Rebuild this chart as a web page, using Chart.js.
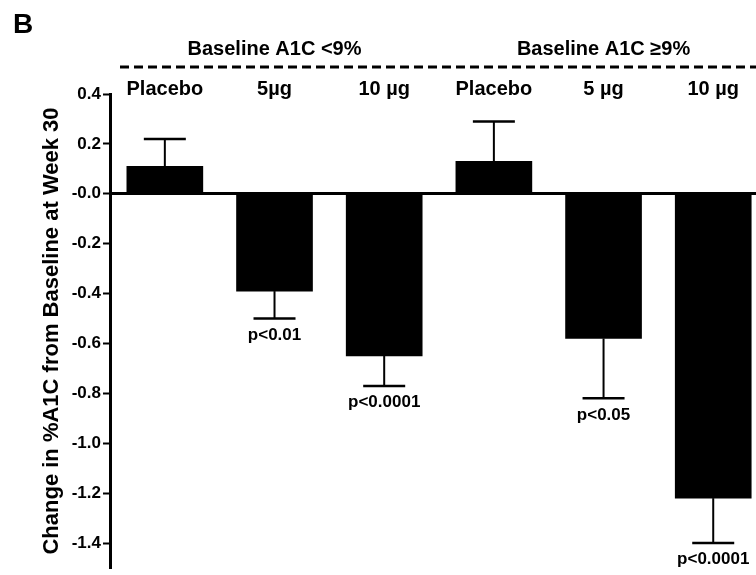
<!DOCTYPE html>
<html>
<head>
<meta charset="utf-8">
<script src="https://cdn.jsdelivr.net/npm/chart.js@4.4.1/dist/chart.umd.min.js"></script>
<style>
  body { margin: 0; background: #fff; }
  #wrap { width: 756px; height: 575px; position: relative; }
</style>
</head>
<body>
<div id="wrap"><canvas id="a1cChart"></canvas></div>
<script>
// Change in A1C at week 30, split by baseline A1C
const categories = ['Placebo', '5\u00b5g', '10 \u00b5g', 'Placebo', '5 \u00b5g', '10 \u00b5g'];
const groupNames = ['Baseline A1C <9%', 'Baseline A1C \u22659%'];
const groupOf = [0, 0, 0, 1, 1, 1];
const means = [0.11, -0.39, -0.65, 0.13, -0.58, -1.22];
const errors = [0.11, 0.11, 0.12, 0.16, 0.24, 0.18];
const pLabels = ['', 'p<0.01', 'p<0.0001', '', 'p<0.05', 'p<0.0001'];
const tickValues = [0.4, 0.2, 0, -0.2, -0.4, -0.6, -0.8, -1.0, -1.2, -1.4];
const tickLabels = ['0.4', '0.2', '-0.0', '-0.2', '-0.4', '-0.6', '-0.8', '-1.0', '-1.2', '-1.4'];

Chart.defaults.font.family = '"Liberation Sans", Arial, Helvetica, sans-serif';
Chart.defaults.font.weight = 'bold';
Chart.defaults.color = '#000';

// error bars, p values, column headers, group headers and panel letter
const extras = {
  id: 'extras',
  afterDatasetsDraw(chart) {
    const ctx = chart.ctx;
    const xs = chart.scales.x;
    const ys = chart.scales.y;
    const area = chart.chartArea;
    ctx.save();
    ctx.strokeStyle = '#000';
    ctx.fillStyle = '#000';

    for (let i = 0; i < means.length; i++) {
      const x = xs.getPixelForValue(i);
      const dir = means[i] >= 0 ? 1 : -1;
      const yBar = ys.getPixelForValue(means[i]);
      const yEnd = ys.getPixelForValue(means[i] + dir * errors[i]);
      ctx.lineWidth = 2;
      ctx.beginPath();
      ctx.moveTo(x, yBar);
      ctx.lineTo(x, yEnd);
      ctx.stroke();
      ctx.lineWidth = 2.5;
      ctx.beginPath();
      ctx.moveTo(x - 21, yEnd);
      ctx.lineTo(x + 21, yEnd);
      ctx.stroke();

      if (pLabels[i]) {
        ctx.font = 'bold 17px "Liberation Sans", Arial, sans-serif';
        ctx.textAlign = 'center';
        ctx.textBaseline = 'top';
        ctx.fillText(pLabels[i], x, yEnd + 8);
      }

      ctx.font = 'bold 20px "Liberation Sans", Arial, sans-serif';
      ctx.textAlign = 'center';
      ctx.textBaseline = 'alphabetic';
      ctx.fillText(categories[i], x, area.top + 1);
    }

    // group headers centred over their columns
    groupNames.forEach((name, g) => {
      const idx = groupOf.map((v, i) => v === g ? i : -1).filter(i => i >= 0);
      const x0 = xs.getPixelForValue(idx[0]);
      const x1 = xs.getPixelForValue(idx[idx.length - 1]);
      ctx.font = 'bold 20px "Liberation Sans", Arial, sans-serif';
      ctx.textAlign = 'center';
      ctx.textBaseline = 'alphabetic';
      ctx.fillText(name, (x0 + x1) / 2, 55);
    });

    // dashed rule under the group headers
    ctx.lineWidth = 3;
    ctx.setLineDash([9, 5]);
    ctx.beginPath();
    ctx.moveTo(area.left + 10, 67);
    ctx.lineTo(chart.width, 67);
    ctx.stroke();
    ctx.setLineDash([]);

    ctx.font = 'bold 28px "Liberation Sans", Arial, sans-serif';
    ctx.textAlign = 'left';
    ctx.fillText('B', 13, 33);
    ctx.restore();
  }
};

new Chart(document.getElementById('a1cChart'), {
  type: 'bar',
  data: {
    datasets: [{
      data: means.map((v, i) => ({ x: i, y: v })),
      backgroundColor: '#000',
      borderWidth: 0,
      barThickness: 76
    }]
  },
  options: {
    responsive: true,
    maintainAspectRatio: false,
    animation: false,
    layout: { padding: { top: 94, bottom: 7, left: 0, right: 0 } },
    plugins: {
      legend: { display: false },
      tooltip: { enabled: false }
    },
    scales: {
      x: {
        type: 'linear',
        display: false,
        offset: false,
        min: -0.5,
        max: 5.39,
        afterBuildTicks: (scale) => {
          scale.ticks = categories.map((c, i) => ({ value: i }));
        }
      },
      y: {
        min: -1.5,
        max: 0.4,
        afterBuildTicks: (scale) => {
          scale.ticks = tickValues.map(v => ({ value: v }));
        },
        afterFit: (scale) => {
          scale.width = 110;
          scale.paddingTop = 0;
          scale.paddingBottom = 0;
        },
        ticks: {
          padding: 2,
          font: { size: 17, weight: 'bold' },
          color: '#000',
          callback: (value, index) => tickLabels[index]
        },
        grid: {
          drawOnChartArea: true,
          drawTicks: true,
          tickLength: 7,
          tickWidth: 2,
          tickColor: '#000',
          color: (c) => c.tick && c.tick.value === 0 ? '#000' : 'rgba(0,0,0,0)',
          lineWidth: (c) => c.tick && c.tick.value === 0 ? 3 : 1
        },
        border: { display: true, color: '#000', width: 3 },
        title: {
          display: true,
          text: 'Change in %A1C from Baseline at Week 30',
          font: { size: 22, weight: 'bold' },
          color: '#000',
          padding: { top: 39, bottom: 0 }
        }
      }
    }
  },
  plugins: [extras]
});
</script>
</body>
</html>
